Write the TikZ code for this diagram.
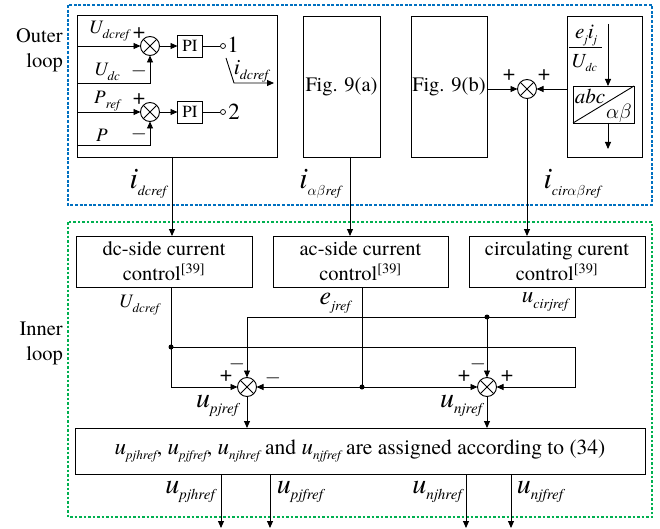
\documentclass[tikz,border=0pt]{standalone}
\usepackage{fontspec}
\setmainfont{texgyretermes}[Extension=.otf, UprightFont=*-regular, ItalicFont=*-italic, BoldFont=*-bold, BoldItalicFont=*-bolditalic]
\usetikzlibrary{arrows.meta}
\definecolor{outerblue}{RGB}{0,112,192}
\definecolor{innergreen}{RGB}{0,176,80}
\newcommand\lab[4]{{\fontsize{#3}{#3}\selectfont\itshape #1\raisebox{-0.55ex}{\fontsize{#4}{#4}\selectfont #2}}}
\newcommand\ab{$\alpha\beta$}
\begin{document}
\begin{tikzpicture}[x=1pt,y=-1pt,
  blk/.style={draw, line width=0.9pt, inner sep=0pt, outer sep=0pt},
  arr/.style={-{Triangle[length=7pt,width=6pt]}, line width=0.9pt},
  ln/.style={line width=0.9pt},
  sumj/.style={circle, draw, line width=0.9pt, minimum size=19pt, inner sep=0pt, outer sep=0pt,
    path picture={\draw[line width=0.9pt] (path picture bounding box.north west) -- (path picture bounding box.south east)
      (path picture bounding box.north east) -- (path picture bounding box.south west);}},
  sgn/.style={font=\fontsize{22}{22}\selectfont, inner sep=0pt},
  txt/.style={font=\fontsize{20.5}{25}\selectfont, align=center, inner sep=0pt},
  dotn/.style={circle, fill, minimum size=5pt, inner sep=0pt},
  contact/.style={circle, draw, fill=white, minimum size=5pt, inner sep=0pt, line width=0.7pt},
  bluedash/.style={draw=outerblue, line width=1.8pt, dash pattern=on 3pt off 1.6pt},
  greendash/.style={draw=innergreen, line width=1.8pt, dash pattern=on 2.5pt off 2pt},
]
\useasboundingbox (0,0) rectangle (660,529);

% loop frames
\draw[bluedash] (68,5) rectangle (652,205);
\draw[greendash] (68,222) rectangle (652,517);
\node[txt, align=right, anchor=east] (outerlbl) at (63,50) {Outer\\loop};
\node[txt, align=right, anchor=east] (innerlbl) at (63,343) {Inner\\loop};

% ---------- outer box 1 ----------
\node[blk, minimum width=200pt, minimum height=142pt, anchor=north west] (ob1) at (77,15) {};
\node[sumj] (s1) at (150,46) {};
\node[sumj] (s2) at (150,112) {};
\node[blk, minimum width=25pt, minimum height=22pt, font=\fontsize{17}{17}\selectfont] (pi1) at (190,46) {PI};
\node[blk, minimum width=25pt, minimum height=22pt, font=\fontsize{17}{17}\selectfont] (pi2) at (190,112) {PI};
\node[contact] (c1) at (223,46) {};
\node[contact] (c2) at (223,112) {};
\draw[arr] (s1) -- (pi1);
\draw[arr] (s2) -- (pi2);
\draw[ln] (pi1) -- (c1);
\draw[ln] (pi2) -- (c2);
\coordinate (udcref) at (77,46);
\coordinate (udc) at (77,83);
\coordinate (pref) at (77,112);
\coordinate (pin) at (77,145);
\draw[arr] (udcref) -- (s1);
\draw[arr] (udc) -| (s1);
\draw[arr] (pref) -- (s2);
\draw[arr] (pin) -| (s2);
\node (lUdcref) at (109,31) {\lab{U}{dcref}{19}{13}};
\node (lUdc) at (107,72) {\lab{U}{dc}{19}{13}};
\node (lPref) at (107,101) {\lab{P}{ref}{19}{13}};
\node (lP) at (102,138) {\lab{P}{}{19}{13}};
\node[sgn] (p1) at (139,33) {+};
\node[sgn] (m1) at (139,71) {$-$};
\node[sgn] (p2) at (139,99) {+};
\node[sgn] (m2) at (139,134) {$-$};
\node[font=\fontsize{23}{23}\selectfont, inner sep=0pt] (n1) at (233,45) {1};
\node[font=\fontsize{23}{23}\selectfont, inner sep=0pt] (n2) at (234,112) {2};
\coordinate (swa) at (226,58);
\coordinate (swb) at (234,83);
\coordinate (swc) at (274,83);
\draw[arr] (swa) -- (swb) -- (swc);
\node[inner sep=0pt] (lidsw) at (251,71) {\lab{i}{dcref}{22}{14}};

% ---------- Fig. 9 boxes ----------
\node[blk, txt, minimum width=77pt, minimum height=141pt] (f9a) at (341.5,86.5) {Fig. 9(a)};
\node[blk, txt, minimum width=76pt, minimum height=141pt] (f9b) at (449,86.5) {Fig. 9(b)};
\node[sumj] (s3) at (527,89) {};
\draw[arr] (f9b.east |- s3) -- (s3);
\node[sgn] (p3) at (509,75) {+};
\node[sgn] (p4) at (544,75) {+};

% ---------- abc box ----------
\node[blk, minimum width=75pt, minimum height=141pt] (abo) at (604.5,86.5) {};
\node[blk, minimum width=61pt, minimum height=37pt] (abi) at (603.5,104.5) {};
\draw[ln] (abi.south west) -- (abi.north east);
\node[font=\fontsize{21}{21}\selectfont\itshape, inner sep=0pt] (tabc) at (590,96) {abc};
\node[font=\fontsize{21}{21}\selectfont, inner sep=0pt] (tab) at (619,113) {$\alpha\beta$};
\node[inner sep=0pt] (fnum) at (586,35) {\lab{e}{j}{21}{12}\lab{i}{j}{21}{12}};
\coordinate (fl) at (569,47);
\coordinate (fr) at (602,47);
\draw[line width=0.7pt] (fl) -- (fr);
\node[inner sep=0pt] (fden) at (584,63) {\lab{U}{dc}{20}{12}};
\coordinate (ftop) at (608,24);
\draw[arr] (ftop) -- (ftop |- abi.north);
\coordinate (abot) at (608,149);
\draw[arr] (abi.south -| abot) -- (abot);
\draw[arr] (abo.west |- s3) -- (s3);

% ---------- inner boxes ----------
\node[blk, txt, minimum width=176pt, minimum height=51pt] (dc) at (164,261.5) {dc-side current\\control\textsuperscript{[39]}};
\node[blk, txt, minimum width=175pt, minimum height=51pt] (ac) at (360.5,261.5) {ac-side current\\control\textsuperscript{[39]}};
\node[blk, txt, minimum width=176pt, minimum height=51pt] (circ) at (557,261.5) {circulating curent\\control\textsuperscript{[39]}};

% outer -> inner
\coordinate (b1o) at (172,157);
\draw[arr] (b1o) -- (dc.north -| b1o);
\coordinate (fao) at (350,157);
\draw[arr] (fao) -- (ac.north -| fao);
\draw[arr] (s3) -- (circ.north -| s3);
\node (lidc) at (148,184) {\lab{i}{dcref}{30}{14}};
\node (liab) at (320,184) {\lab{i}{\ab ref}{30}{14}};
\node (licir) at (572,184) {\lab{i}{cir\ab ref}{30}{14}};

% ---------- inner summing ----------
\node[sumj] (sp) at (247,387) {};
\node[sumj] (sn) at (487,387) {};
\coordinate (dco) at (171,287);
\coordinate (j1) at (171,347);
\coordinate (j1r) at (575,347);
\draw[arr] (dco) |- (sp);
\draw[arr] (j1) -- (j1r) |- (sn);
\node[dotn] (d1) at (j1) {};
\coordinate (aco) at (362,287);
\coordinate (ej) at (362,387);
\draw[ln] (aco) -- (ej);
\draw[arr] (ej) -- (sp);
\draw[arr] (ej) -- (sn);
\node[dotn] (d2) at (ej) {};
\coordinate (cio) at (575,287);
\coordinate (cc) at (575,317);
\coordinate (cj) at (487,317);
\draw[arr] (cio) -- (cc) -| (sp);
\draw[arr] (cj) -- (sn);
\node[dotn] (d3) at (cj) {};
\node[inner sep=0pt] (lUdi) at (139,305) {\lab{U}{dcref}{19}{13}};
\node[inner sep=0pt] (lej) at (335,303) {\lab{e}{jref}{26}{14}};
\node[inner sep=0pt] (lucir) at (545,302) {\lab{u}{cirjref}{23}{14}};
\node[sgn] (pp1) at (226,376) {+};
\node[sgn] (pm1) at (237,364) {$-$};
\node[sgn] (pm2) at (273,378) {$-$};
\node[sgn] (np1) at (464,376) {+};
\node[sgn] (nm1) at (478,364) {$-$};
\node[sgn] (np2) at (507,376) {+};

% ---------- assignment box ----------
\node[blk, minimum width=570pt, minimum height=46pt] (big) at (360,451)
  {\fontsize{21.5}{21.5}\selectfont \lab{u}{pjhref}{23}{13}, \lab{u}{pjfref}{23}{13}, \lab{u}{njhref}{23}{13} and \lab{u}{njfref}{23}{13} are assigned according to (34)};
\draw[arr] (sp) -- (big.north -| sp);
\draw[arr] (sn) -- (big.north -| sn);
\node[inner sep=0pt] (lup) at (217,406) {\lab{u}{pjref}{28}{15}};
\node[inner sep=0pt] (lun) at (461,406) {\lab{u}{njref}{28}{15}};

\coordinate (q1) at (221,528);
\coordinate (q2) at (270,528);
\coordinate (q3) at (466,528);
\coordinate (q4) at (511,528);
\draw[arr] (big.south -| q1) -- (q1);
\draw[arr] (big.south -| q2) -- (q2);
\draw[arr] (big.south -| q3) -- (q3);
\draw[arr] (big.south -| q4) -- (q4);
\node[inner sep=0pt] (lq1) at (190,492) {\lab{u}{pjhref}{28}{15}};
\node[inner sep=0pt] (lq2) at (300,492) {\lab{u}{pjfref}{28}{15}};
\node[inner sep=0pt] (lq3) at (437,492) {\lab{u}{njhref}{28}{15}};
\node[inner sep=0pt] (lq4) at (540,492) {\lab{u}{njfref}{28}{15}};
\end{tikzpicture}
\end{document}
